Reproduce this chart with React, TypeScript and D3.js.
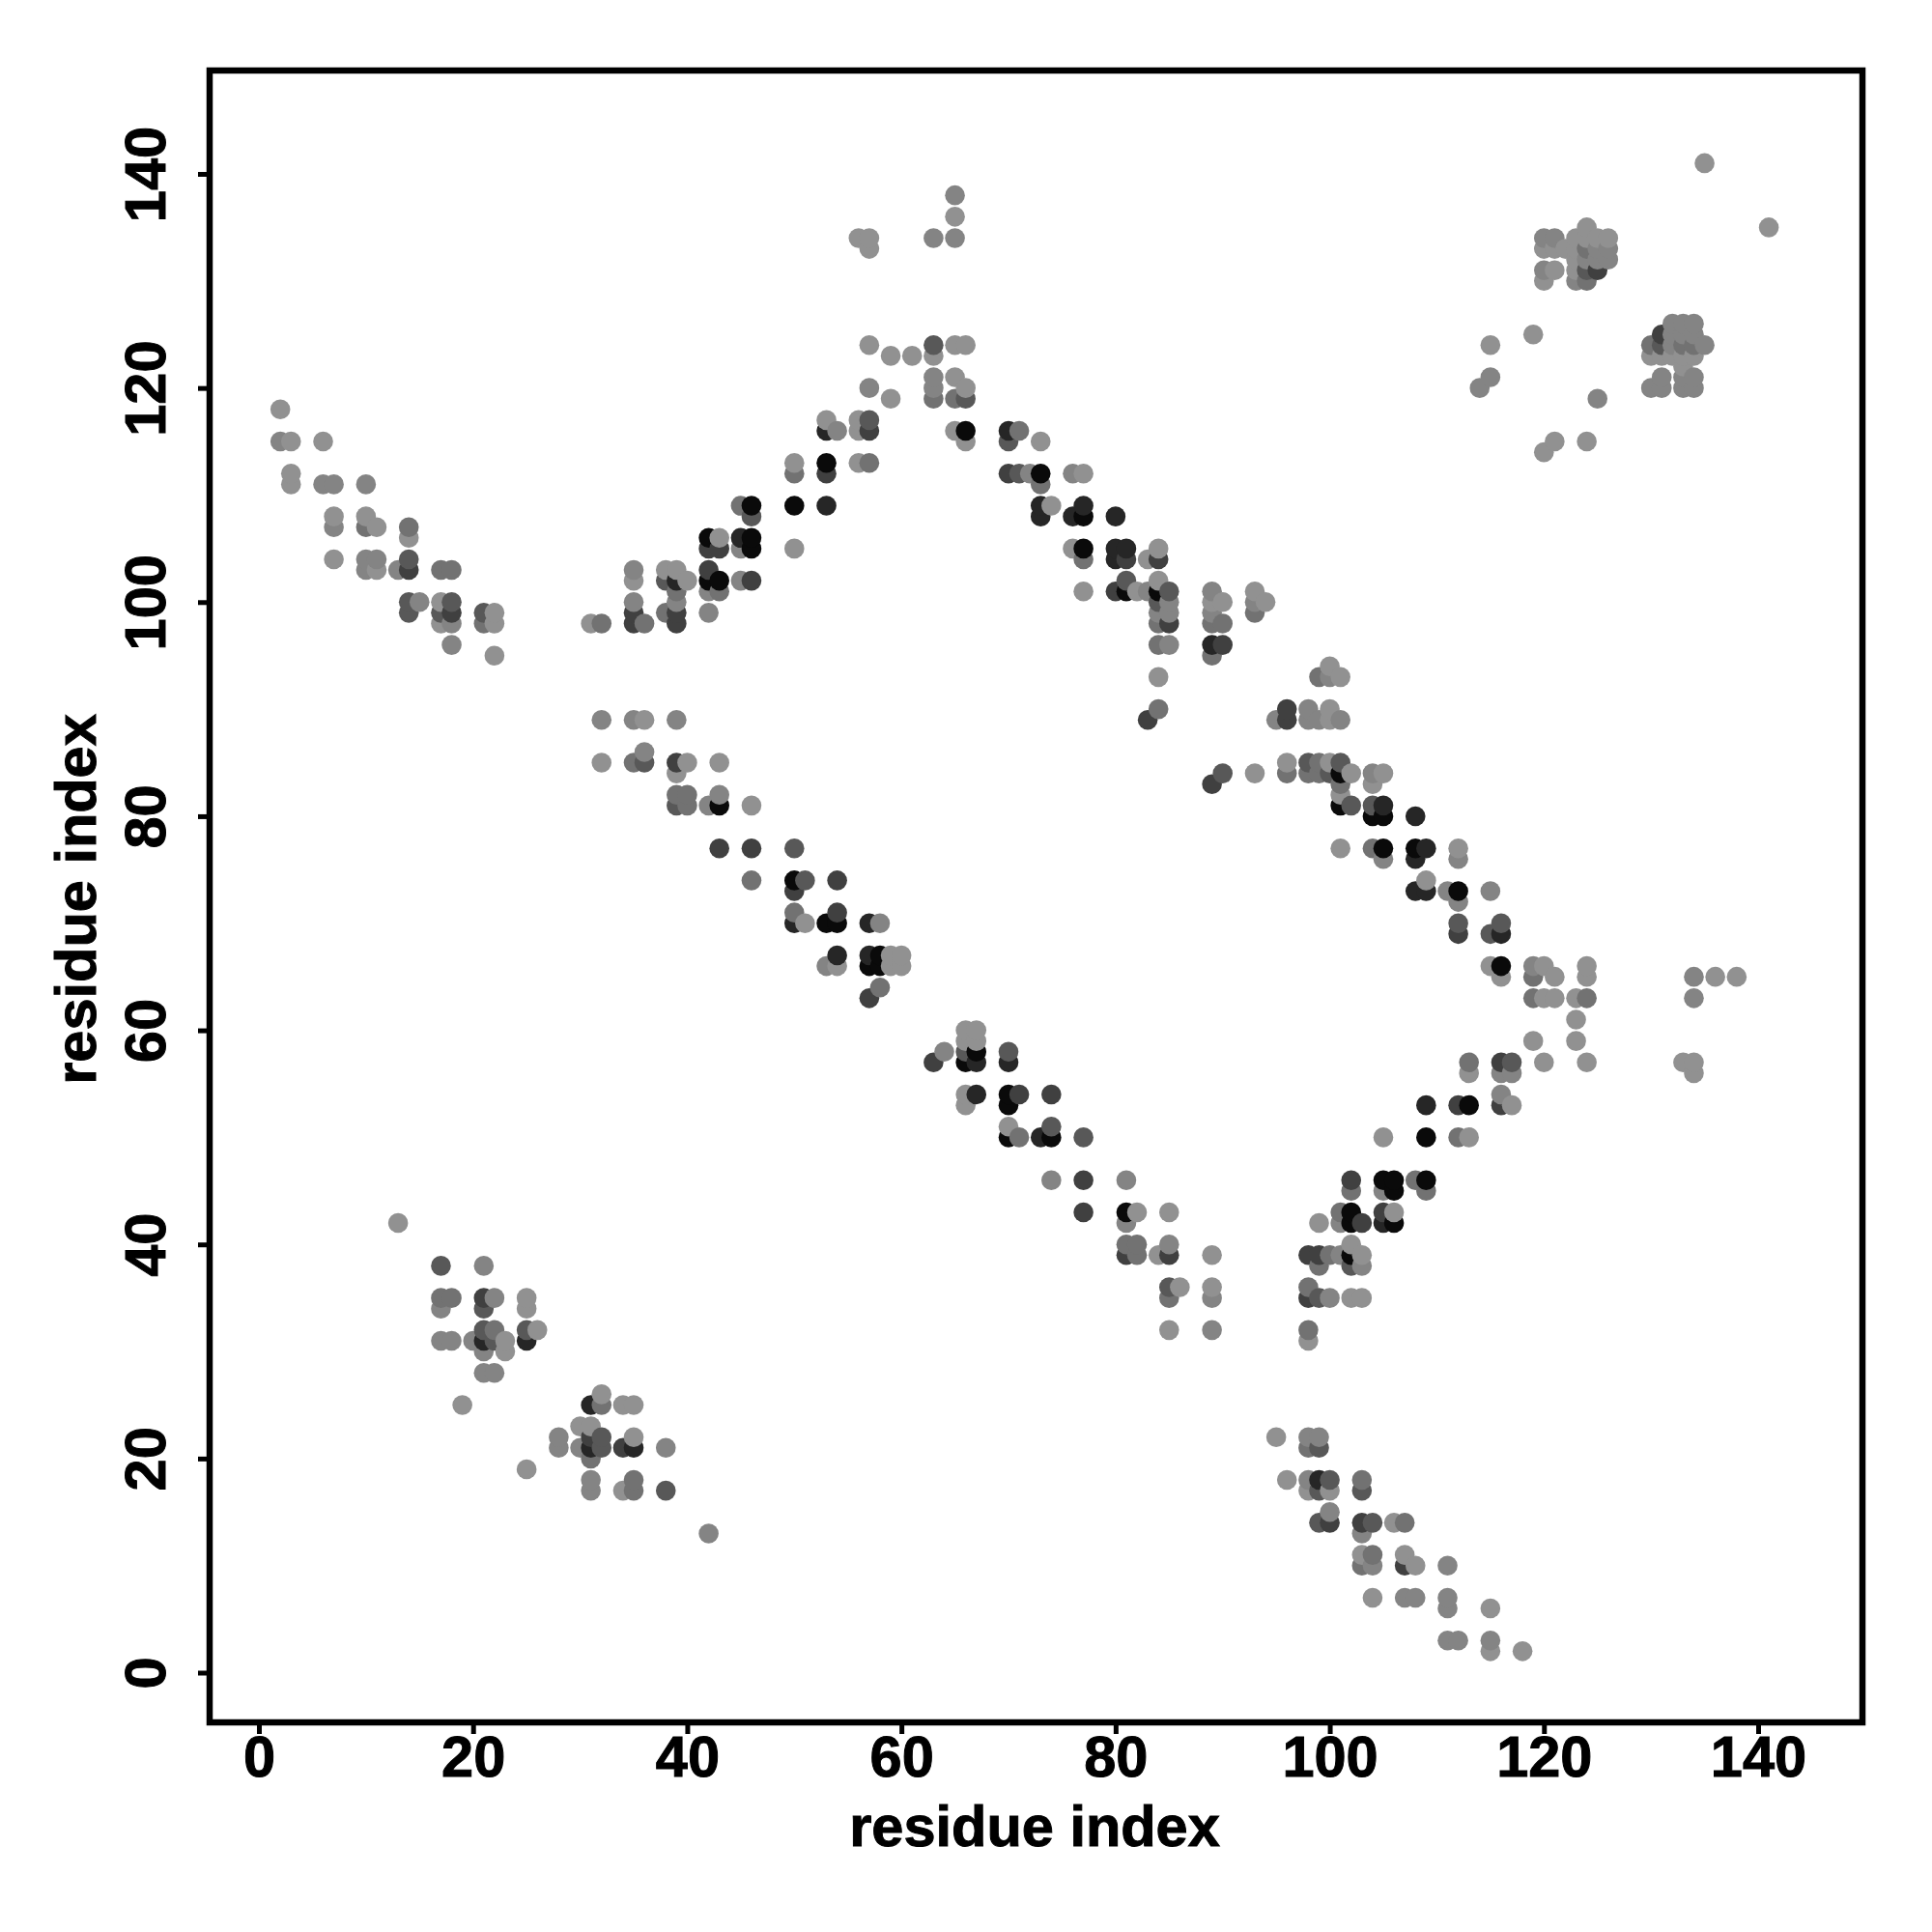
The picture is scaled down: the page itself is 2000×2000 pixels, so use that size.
import { useEffect, useRef } from "react";
import * as d3 from "d3";

type Pair = [number, number];

// Contacts [residue i, residue j], one list per weight class (weakest first)
const contactsW1: Pair[] = [
  [2, 118], [3, 115], [3, 112], [3, 111], [6, 115], [7, 108], [7, 104], [10, 108], [11, 107], [11, 103],
  [14, 106], [17, 100], [17, 98], [22, 99], [22, 98], [22, 95], [31, 98], [35, 102], [38, 103], [39, 103],
  [40, 102], [43, 106], [50, 105], [50, 113], [53, 117], [56, 117], [56, 116], [56, 113], [57, 124], [56, 134],
  [57, 134], [57, 133], [59, 123], [59, 119], [61, 123], [63, 123], [65, 136], [65, 124], [66, 124], [65, 121],
  [66, 120], [65, 116], [66, 115], [73, 115], [77, 112], [74, 109], [76, 105], [84, 105], [83, 104], [77, 101],
  [82, 101], [84, 102], [84, 93], [89, 100], [90, 100], [93, 101], [94, 100], [100, 94], [101, 93], [100, 90],
  [100, 89], [96, 85], [100, 85], [102, 84], [105, 84], [104, 83], [101, 82], [93, 84], [101, 77], [112, 77],
  [109, 74], [115, 66], [116, 65], [120, 66], [121, 65], [124, 66], [124, 65], [136, 65], [138, 65], [120, 63],
  [121, 63], [123, 63], [123, 61], [119, 59], [123, 59], [120, 57], [124, 57], [133, 57], [134, 57], [134, 56],
  [113, 56], [117, 53], [113, 50], [105, 50], [99, 42], [106, 43], [102, 40], [103, 39], [102, 35], [103, 35],
  [98, 31], [85, 43], [84, 39], [89, 39], [86, 36], [89, 36], [85, 32], [82, 43], [70, 51], [66, 60],
  [67, 60], [66, 59], [67, 59], [66, 54], [66, 53], [59, 67], [60, 67], [59, 66], [60, 66], [54, 66],
  [51, 70], [46, 81], [36, 89], [32, 85], [40, 85], [43, 85], [39, 84], [13, 42], [25, 35], [25, 34],
  [23, 31], [23, 30], [26, 32], [19, 25], [32, 26], [34, 25], [35, 25], [30, 23], [31, 23], [35, 22],
  [25, 19], [34, 17], [95, 22], [96, 18], [98, 17], [100, 17], [106, 14], [103, 11], [107, 11], [108, 10],
  [104, 7], [115, 6], [115, 2], [118, 2], [135, 141], [141, 135], [115, 124], [119, 125], [120, 114], [121, 115],
  [124, 115], [124, 135], [120, 133], [121, 133], [122, 133], [123, 134], [124, 134], [125, 134], [126, 134], [123, 133],
  [123, 132], [121, 131], [123, 131], [120, 130], [130, 123], [131, 123], [132, 123], [133, 123], [134, 123], [133, 122],
];
const contactsW2: Pair[] = [
  [2, 115], [6, 111], [7, 111], [7, 107], [10, 111], [10, 104], [11, 104], [10, 103], [13, 103], [15, 100],
  [18, 98], [18, 96], [35, 103], [35, 100], [39, 100], [42, 99], [42, 101], [45, 105], [45, 102], [54, 116],
  [57, 120], [63, 134], [63, 121], [63, 120], [65, 138], [65, 134], [72, 112], [76, 112], [83, 101], [84, 99],
  [85, 99], [85, 100], [85, 96], [89, 101], [89, 99], [93, 100], [95, 89], [100, 93], [98, 90], [99, 89],
  [101, 89], [98, 89], [104, 84], [105, 76], [112, 76], [111, 73], [112, 72], [115, 73], [119, 66], [134, 65],
  [134, 63], [116, 56], [117, 56], [116, 54], [105, 45], [101, 42], [103, 38], [100, 35], [89, 35], [89, 32],
  [81, 46], [81, 42], [85, 40], [64, 58], [53, 66], [58, 70], [42, 81], [43, 82], [39, 89], [35, 89],
  [36, 86], [21, 38], [17, 34], [22, 35], [17, 31], [18, 31], [20, 31], [21, 30], [21, 28], [22, 28],
  [28, 22], [28, 21], [30, 21], [38, 21], [31, 18], [31, 17], [42, 13], [98, 22], [99, 22], [98, 18],
  [100, 15], [103, 13], [104, 10], [107, 7], [108, 7], [111, 7], [111, 6], [111, 10], [111, 3], [112, 3],
  [115, 3], [114, 120], [115, 121], [125, 119], [120, 134], [121, 134], [125, 133], [126, 133], [124, 132], [125, 132],
  [126, 132], [120, 131], [123, 130], [132, 126], [133, 126], [134, 126], [132, 125], [133, 125], [134, 125], [135, 124],
  [132, 124], [131, 121], [130, 120], [131, 120], [133, 121], [134, 121], [133, 120], [134, 120], [101, 39],
  [74, 46], [32, 89],
];
const contactsW3: Pair[] = [
  [10, 107], [14, 107], [17, 103], [18, 103], [21, 98], [36, 98], [38, 99], [39, 101], [43, 101], [50, 112],
  [57, 113], [63, 119], [65, 119], [73, 111], [77, 104], [84, 98], [84, 96], [84, 90], [89, 98], [90, 98],
  [89, 95], [93, 99], [99, 93], [96, 84], [98, 84], [99, 85], [99, 84], [101, 83], [104, 77], [109, 45],
  [102, 45], [108, 46], [101, 43], [100, 39], [99, 38], [98, 36], [98, 32], [113, 57], [119, 65], [119, 63],
  [124, 63], [112, 50], [71, 50], [81, 40], [82, 40], [82, 39], [85, 35], [46, 74], [50, 71], [31, 20],
  [58, 64], [35, 85], [39, 82], [40, 82], [40, 81], [17, 35], [18, 35], [22, 32], [32, 25],
  [35, 18], [35, 17], [98, 21], [103, 18], [107, 14], [104, 11], [103, 10], [124, 133], [124, 130], [130, 124],
  [133, 124], [134, 124], [71, 116], [32, 98], [45, 109],
];
const contactsW4: Pair[] = [
  [14, 104], [14, 100], [14, 99], [17, 99], [18, 100], [21, 99], [38, 102], [46, 108], [57, 117], [63, 124],
  [66, 119], [71, 112], [70, 115], [81, 102], [85, 101], [84, 100], [98, 85], [101, 85], [100, 18], [100, 84],
  [102, 81], [104, 81], [115, 69], [116, 70], [112, 70], [117, 57], [102, 38], [99, 35], [74, 51], [77, 50],
  [85, 36], [51, 74], [50, 77], [36, 85], [39, 81], [21, 34], [17, 38], [21, 32], [22, 31], [25, 32],
  [32, 22], [32, 21], [38, 17], [99, 21], [99, 17], [103, 17], [99, 14], [104, 14], [124, 131], [131, 124],
  [90, 84], [66, 58], [70, 58],
];
const contactsW5: Pair[] = [
  [14, 103], [18, 99], [35, 99], [35, 98], [39, 99], [39, 98], [42, 105], [43, 105], [46, 102], [42, 103],
  [57, 116], [53, 112], [70, 112], [80, 101], [81, 104], [84, 104], [85, 98], [89, 83], [83, 89], [90, 96],
  [96, 89], [96, 90], [98, 35], [98, 39], [99, 39], [103, 42], [105, 43], [102, 46], [112, 69], [112, 53],
  [77, 46], [77, 43], [74, 54], [81, 39], [85, 39], [63, 57], [57, 63], [54, 74], [50, 73], [54, 71],
  [46, 77], [43, 77], [39, 85], [21, 35], [31, 22], [34, 21], [103, 14], [100, 14], [107, 10], [125, 131],
  [131, 125], [116, 57], [116, 53], [71, 54],
];
const contactsW6: Pair[] = [
  [39, 102], [45, 106], [53, 116], [53, 109], [70, 116], [73, 109], [73, 108], [76, 108], [77, 109],
  [80, 108], [80, 105], [81, 105], [80, 104], [89, 96], [108, 80], [105, 81], [108, 76], [108, 73], [109, 73],
  [109, 77], [116, 69], [109, 53], [105, 42], [99, 18], [73, 50], [67, 54], [67, 57], [70, 57],
  [57, 70], [54, 67], [57, 67], [50, 70], [31, 25], [35, 21], [31, 21], [21, 31], [25, 31],
];
const contactsW7: Pair[] = [
  [42, 102], [43, 102], [42, 106], [46, 109], [46, 106], [46, 105], [50, 109], [53, 113], [66, 116], [73, 112],
  [77, 108], [77, 105], [81, 101], [84, 101], [101, 84], [101, 81], [104, 80], [105, 80], [105, 77], [108, 77],
  [112, 73], [116, 66], [113, 53], [109, 50], [105, 46], [106, 46], [109, 46], [106, 45], [102, 43], [102, 42],
  [106, 42], [102, 39], [81, 43], [74, 50], [70, 54], [70, 53], [70, 50], [66, 57], [67, 58], [54, 70],
  [53, 70], [50, 74], [58, 67], [57, 66], [58, 66], [43, 81],
];
const xTicks = [0, 20, 40, 60, 80, 100, 120, 140];
const yTicks = [0, 20, 40, 60, 80, 100, 120, 140];
const weightClasses = [contactsW1, contactsW2, contactsW3, contactsW4, contactsW5, contactsW6, contactsW7];

function App() {
  const ref = useRef<SVGSVGElement>(null);

  useEffect(() => {
    const svg = d3.select(ref.current);
    svg.selectAll("*").remove();

    const x = d3.scaleLinear().domain([0, 140]).range([268, 1820]);
    const y = d3.scaleLinear().domain([0, 140]).range([1731.5, 180]);
    const frame = { left: 217, top: 73, right: 1928, bottom: 1783 };
    const font = "'Liberation Sans', Arial, sans-serif";

    const shade = d3
      .scaleOrdinal<number, string>()
      .domain([0, 1, 2, 3, 4, 5, 6])
      .range(["#919191", "#848484", "#727272", "#585858", "#404040", "#262626", "#0a0a0a"]);

    // Keep drawing order of the original: by i, then j, later ones on top
    const points = weightClasses
      .flatMap((list, w) => list.map(([i, j]) => ({ i, j, w })))
      .sort((a, b) => a.i - b.i || a.j - b.j || a.w - b.w);

    svg
      .append("g")
      .selectAll("circle")
      .data(points)
      .enter()
      .append("circle")
      .attr("cx", (d) => x(d.i))
      .attr("cy", (d) => y(d.j))
      .attr("r", 10.3)
      .attr("fill", (d) => shade(d.w));

    svg
      .append("rect")
      .attr("x", frame.left)
      .attr("y", frame.top)
      .attr("width", frame.right - frame.left)
      .attr("height", frame.bottom - frame.top)
      .attr("fill", "none")
      .attr("stroke", "#000")
      .attr("stroke-width", 6.5);

    // Axes
    const xAxis = svg
      .append("g")
      .attr("transform", `translate(0, ${frame.bottom})`)
      .call(d3.axisBottom(x).tickValues(xTicks).tickSize(12).tickPadding(6).tickFormat(d3.format("d")));
    const yAxis = svg
      .append("g")
      .attr("transform", `translate(${frame.left}, 0)`)
      .call(d3.axisLeft(y).tickValues(yTicks).tickSize(12).tickPadding(0).tickFormat(d3.format("d")));

    [xAxis, yAxis].forEach((axis) => {
      axis.select(".domain").remove();
      axis.selectAll("line").attr("stroke", "#000").attr("stroke-width", 5);
      axis
        .selectAll("text")
        .attr("fill", "#000")
        .attr("stroke", "#000")
        .attr("stroke-width", 1)
        .style("font-family", font)
        .style("font-weight", "bold")
        .style("font-size", "59.5px");
    });

    xAxis.selectAll("text").attr("y", null).attr("dy", null).attr("transform", "translate(0, 56)");
    yAxis
      .selectAll("text")
      .attr("x", null)
      .attr("dy", null)
      .attr("text-anchor", "middle")
      .attr("transform", "translate(-46, 0) rotate(-90)");

    svg
      .append("text")
      .attr("x", 1071)
      .attr("y", 1911)
      .attr("text-anchor", "middle")
      .attr("stroke", "#000")
      .attr("stroke-width", 1)
      .style("font-family", font)
      .style("font-weight", "bold")
      .style("font-size", "59.5px")
      .text("residue index");

    svg
      .append("text")
      .attr("transform", "translate(99, 931) rotate(-90)")
      .attr("text-anchor", "middle")
      .attr("stroke", "#000")
      .attr("stroke-width", 1)
      .style("font-family", font)
      .style("font-weight", "bold")
      .style("font-size", "59.5px")
      .text("residue index");
  }, []);

  return <svg ref={ref} width={2000} height={2000} style={{ position: "absolute", left: 0, top: 0, background: "#fff" }} />;
}

export default App;
